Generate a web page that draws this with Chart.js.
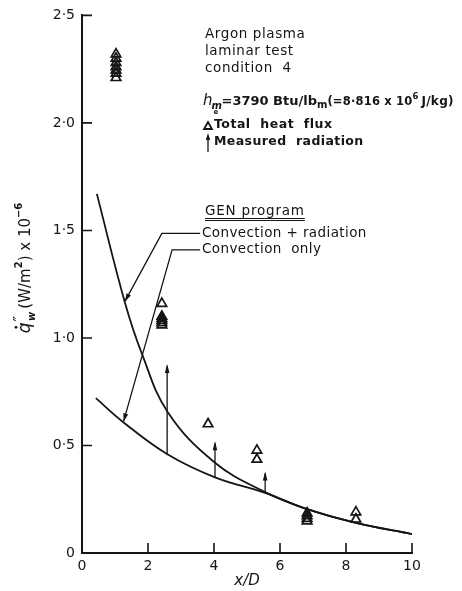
<!DOCTYPE html>
<html>
<head>
<meta charset="utf-8">
<script src="https://cdn.jsdelivr.net/npm/chart.js@4.4.1/dist/chart.umd.min.js"></script>
<style>
  html, body { margin: 0; padding: 0; background: #fff; }
  #wrap { width: 462px; height: 591px; }
</style>
</head>
<body>
<div id="wrap"><canvas id="chart" width="462" height="591"></canvas></div>
<script>
// Axis ticks
const xTicks = [0, 2, 4, 6, 8, 10];
const yTicks = [0, 0.5, 1.0, 1.5, 2.0, 2.5];

// Total heat flux (triangles)
const triX = [1.03, 1.03, 1.03, 1.03, 1.03, 1.03, 1.03, 2.42, 2.42, 2.42, 2.42, 2.42, 2.42, 3.82, 5.3, 5.3, 6.82, 6.82, 6.82, 6.82, 8.3, 8.3];
const triY = [2.32, 2.30, 2.28, 2.26, 2.245, 2.23, 2.21, 1.16, 1.10, 1.09, 1.08, 1.07, 1.06, 0.60, 0.477, 0.435, 0.185, 0.172, 0.16, 0.148, 0.19, 0.157];

// GEN program: convection + radiation
const radX = [0.45, 1.3, 1.82, 2.6, 4.03, 5.55, 6.8, 8.3, 10.0];
const radY = [1.67, 1.165, 0.925, 0.655, 0.42, 0.283, 0.205, 0.14, 0.088];
// GEN program: convection only
const convX = [0.42, 1.27, 2.6, 4.03, 5.55, 6.8, 8.3, 10.0];
const convY = [0.72, 0.606, 0.458, 0.352, 0.28, 0.205, 0.14, 0.088];

// Measured radiation arrows
const arrowX = [2.58, 4.03, 5.55];
const arrowLow = [0.458, 0.352, 0.282];
const arrowHigh = [0.87, 0.51, 0.37];

// Leader lines from the GEN program labels (x, y in data units, last point = arrow tip)
const leaderRadX = [3.58, 2.42, 1.30];
const leaderRadY = [1.486, 1.486, 1.17];
const leaderConvX = [3.58, 2.73, 1.26];
const leaderConvY = [1.41, 1.41, 0.612];

const ink = "#151515";
const font = "'DejaVu Sans', sans-serif";

const pts = (xs, ys) => xs.map((v, i) => ({ x: v, y: ys[i] }));

function lineSet(data, width, tension) {
  return {
    data: data,
    showLine: true,
    pointRadius: 0,
    borderColor: ink,
    borderWidth: width,
    tension: tension || 0,
  };
}

const datasets = [
  {
    data: pts(triX, triY),
    showLine: false,
    pointStyle: "triangle",
    pointRadius: 5.5,
    pointBorderWidth: 1.7,
    borderColor: ink,
    backgroundColor: "rgba(0,0,0,0)",
  },
  lineSet(pts(radX, radY), 1.8, 0.4),
  lineSet(pts(convX, convY), 1.8, 0.4),
  lineSet(pts(leaderRadX, leaderRadY), 1.3),
  lineSet(pts(leaderConvX, leaderConvY), 1.3),
];
arrowX.forEach((v, i) => {
  datasets.push(lineSet([{ x: v, y: arrowLow[i] }, { x: v, y: arrowHigh[i] }], 1.3));
});

// draw a run of text pieces one after another
function runText(ctx, x0, base, parts) {
  let cx = x0;
  parts.forEach(p => {
    ctx.font = p.f;
    ctx.letterSpacing = p.ls || "0px";
    ctx.fillText(p.t, cx, base + (p.dy || 0));
    cx += ctx.measureText(p.t).width + (p.gap || 0);
  });
  ctx.letterSpacing = "0px";
  return cx;
}

function head(ctx, tx, ty, fx, fy, len, half) {
  const a = Math.atan2(ty - fy, tx - fx);
  ctx.beginPath();
  ctx.moveTo(tx, ty);
  ctx.lineTo(tx - len * Math.cos(a) + half * Math.sin(a), ty - len * Math.sin(a) - half * Math.cos(a));
  ctx.lineTo(tx - len * Math.cos(a) - half * Math.sin(a), ty - len * Math.sin(a) + half * Math.cos(a));
  ctx.closePath();
  ctx.fill();
}

const decor = {
  id: "decor",
  afterDatasetsDraw(chart) {
    const { ctx, scales: { x, y } } = chart;
    ctx.save();
    ctx.strokeStyle = ink;
    ctx.fillStyle = ink;

    // inward ticks
    ctx.lineWidth = 1.6;
    ctx.beginPath();
    xTicks.slice(1).forEach(v => {
      const px = x.getPixelForValue(v);
      ctx.moveTo(px, y.bottom);
      ctx.lineTo(px, y.bottom - 10);
    });
    yTicks.slice(1).forEach(v => {
      const py = y.getPixelForValue(v);
      ctx.moveTo(x.left, py);
      ctx.lineTo(x.left + 10, py);
    });
    ctx.stroke();

    // arrowheads on measured radiation
    arrowX.forEach((v, i) => {
      const px = x.getPixelForValue(v);
      const py = y.getPixelForValue(arrowHigh[i]);
      head(ctx, px, py - 2, px, py + 10, 9, 2.3);
    });
    // arrowheads on leader lines
    [[leaderRadX, leaderRadY], [leaderConvX, leaderConvY]].forEach(([lx, ly]) => {
      const n = lx.length - 1;
      head(ctx, x.getPixelForValue(lx[n]), y.getPixelForValue(ly[n]),
        x.getPixelForValue(lx[n - 1]), y.getPixelForValue(ly[n - 1]), 8, 2.5);
    });

    // condition text
    ctx.textBaseline = "alphabetic";
    ctx.textAlign = "left";
    const reg = "13.5px " + font;
    runText(ctx, 205, 38, [{ t: "Argon plasma", f: reg, ls: "0.6px" }]);
    runText(ctx, 205, 55, [{ t: "laminar test", f: reg, ls: "0.6px" }]);
    runText(ctx, 205, 72, [{ t: "condition  4", f: reg, ls: "0.6px" }]);

    let hx = runText(ctx, 203, 105, [{ t: "h", f: "italic 15px " + font }]);
    runText(ctx, hx - 1, 109, [{ t: "m", f: "italic bold 10px " + font }]);
    runText(ctx, hx + 1, 114, [{ t: "e", f: "bold 7px " + font }]);
    runText(ctx, hx + 9, 105, [
      { t: "=3790 Btu/lb", f: "bold 13px " + font },
      { t: "m", f: "bold 10px " + font, dy: 3 },
      { t: "(=8·816 x 10", f: "bold 11.5px " + font, ls: "0.2px" },
      { t: "6", f: "bold 8.5px " + font, dy: -6, gap: 3 },
      { t: "J/kg)", f: "bold 12px " + font, ls: "0.3px" },
    ]);

    // legend symbols
    ctx.lineWidth = 1.8;
    ctx.beginPath();
    ctx.moveTo(204, 129); ctx.lineTo(212, 129); ctx.lineTo(208, 122); ctx.closePath();
    ctx.stroke();
    ctx.lineWidth = 1.3;
    ctx.beginPath();
    ctx.moveTo(208, 152); ctx.lineTo(208, 136);
    ctx.stroke();
    head(ctx, 208, 133, 208, 145, 7, 2.2);
    runText(ctx, 214, 128, [{ t: "Total  heat  flux", f: "bold 12.5px " + font, ls: "0.5px" }]);
    runText(ctx, 214, 145, [{ t: "Measured  radiation", f: "bold 12.5px " + font, ls: "0.4px" }]);

    // GEN program labels
    const gx = runText(ctx, 205, 215, [{ t: "GEN program", f: reg, ls: "0.8px" }]);
    ctx.lineWidth = 1;
    ctx.beginPath();
    ctx.moveTo(205, 218.5); ctx.lineTo(gx, 218.5);
    ctx.moveTo(205, 220.5); ctx.lineTo(gx, 220.5);
    ctx.stroke();
    runText(ctx, 202, 237, [{ t: "Convection + radiation", f: reg, ls: "0.4px" }]);
    runText(ctx, 202, 253, [{ t: "Convection  only", f: reg, ls: "0.4px" }]);

    // y axis title, rotated
    ctx.translate(30, 268);
    ctx.rotate(-Math.PI / 2);
    const tparts = [
      { t: "q", f: "italic 17px " + font, gap: 1 },
      { t: "″", f: "15px " + font, dy: -5, gap: -5 },
      { t: "w", f: "italic bold 10px " + font, dy: 5, gap: 3 },
      { t: "(W/m", f: "15px " + font },
      { t: "2", f: "bold 10px " + font, dy: -8 },
      { t: ") x 10", f: "15px " + font },
      { t: "−6", f: "bold 10px " + font, dy: -8 },
    ];
    let tw = 0;
    tparts.forEach(p => { ctx.font = p.f; tw += ctx.measureText(p.t).width + (p.gap || 0); });
    const sx = -tw / 2;
    runText(ctx, sx, 0, tparts);
    ctx.beginPath();
    ctx.arc(sx + 6, -14, 1.4, 0, Math.PI * 2);
    ctx.fill();

    ctx.restore();
  },
};

new Chart(document.getElementById("chart"), {
  type: "scatter",
  data: { datasets: datasets },
  options: {
    responsive: false,
    animation: false,
    devicePixelRatio: 1,
    layout: { padding: { top: 13, right: 50, left: 0, bottom: 0 } },
    plugins: { legend: { display: false }, tooltip: { enabled: false } },
    scales: {
      x: {
        type: "linear",
        min: 0,
        max: 10,
        afterFit: s => { s.height = 38; },
        afterBuildTicks: s => { s.ticks = xTicks.map(v => ({ value: v })); },
        ticks: { color: ink, padding: 5, font: { family: font, size: 14 } },
        grid: { display: false, drawTicks: false },
        border: { color: ink, width: 2 },
        title: { display: true, text: "x/D", color: ink, padding: { top: 0, bottom: 1 }, font: { family: font, size: 15, style: "italic" } },
      },
      y: {
        type: "linear",
        min: 0,
        max: 2.5,
        afterFit: s => { s.width = 82; },
        afterBuildTicks: s => { s.ticks = yTicks.map(v => ({ value: v })); },
        ticks: {
          color: ink,
          padding: 7,
          font: { family: font, size: 14 },
          callback: v => (v === 0 ? "0" : v.toFixed(1).replace(".", "·")),
        },
        grid: { display: false, drawTicks: false },
        border: { color: ink, width: 2 },
      },
    },
  },
  plugins: [decor],
});
</script>
</body>
</html>
